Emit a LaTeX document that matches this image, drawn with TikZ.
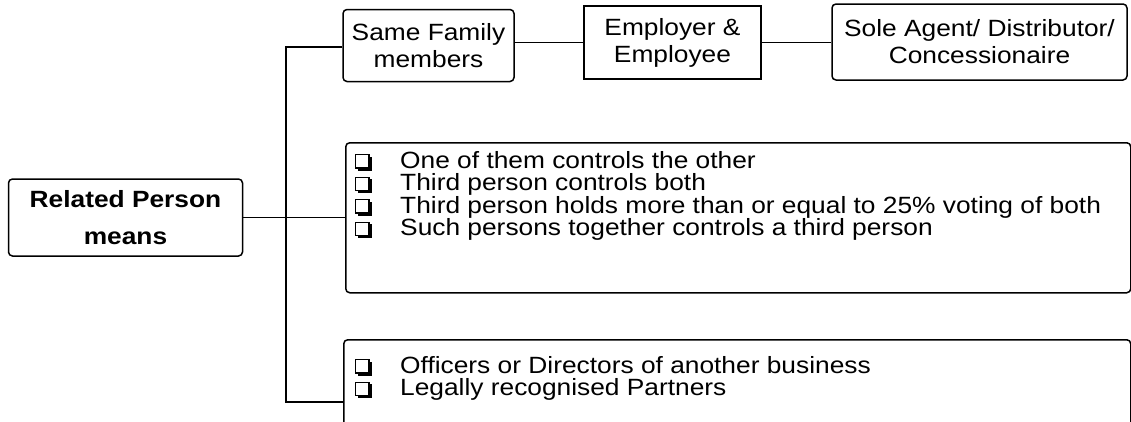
\documentclass[tikz,border=0pt]{standalone}
\usepackage{fontspec}
\setmainfont{Liberation Sans}[FakeStretch=1.12]
\newcommand{\cbx}{\tikz[baseline=0pt,x=1pt,y=1pt]{\fill[black] (2.8,-2.6) rectangle (16.6,11.4); \draw[fill=white,line width=1.2pt] (0.6,0.2) rectangle (13.8,13.6);}}
\newcommand{\itm}[1]{\makebox[45pt][l]{\cbx}#1}
\begin{document}
\begin{tikzpicture}[x=1pt,y=-1pt,
  box/.style={draw=black, line width=1.5pt, rounded corners=4pt, inner sep=0pt, align=center},
  sqbox/.style={draw=black, line width=1.5pt, inner sep=0pt, align=center},
  txt/.style={font=\fontsize{23.5}{27}\selectfont},
  list/.style={inner sep=0pt, align=left, anchor=north west, font=\fontsize{23.5}{22.5}\selectfont},
  conn/.style={draw=black, line width=1.5pt}]
\useasboundingbox (0,0) rectangle (1131,421);
\begin{scope}
\clip (0,0) rectangle (1131,421);
\node[box, minimum width=234pt, minimum height=77pt, font=\fontsize{23.5}{37}\selectfont\bfseries] (rel) at (125.5,217.5) {Related Person\\means};
\node[box, txt, minimum width=171pt, minimum height=72pt] (fam) at (428.5,45.5) {Same Family\\members};
\node[sqbox, txt, minimum width=177pt, minimum height=73pt] (emp) at (672.5,42.5) {Employer \&\\Employee};
\node[box, txt, minimum width=295pt, minimum height=76pt] (sole) at (979.5,42) {Sole Agent/ Distributor/\\Concessionaire};
\node[box, anchor=north west, minimum width=785pt, minimum height=150pt] (mid) at (345,142) {};
\node[list] (midtxt) at (355,151) {\itm{One of them controls the other}\\
\itm{Third person controls both}\\
\itm{Third person holds more than or equal to 25\% voting of both}\\
\itm{Such persons together controls a third person}};
\node[box, anchor=north west, minimum width=787pt, minimum height=110pt] (low) at (343,339) {};
\node[list] (lowtxt) at (355,356) {\itm{Officers or Directors of another business}\\
\itm{Legally recognised Partners}};
\coordinate (top) at (286,47);
\coordinate (bot) at (286,402);
\draw[conn] (top -| fam.west) -- (top) -- (bot) -- (bot -| low.west);
\draw[conn] (rel.east) -- (rel.east -| mid.west);
\draw[conn] (fam.east |- emp.west) -- (emp.west);
\draw[conn] (emp.east) -- (emp.east -| sole.west);
\end{scope}
\end{tikzpicture}
\end{document}
